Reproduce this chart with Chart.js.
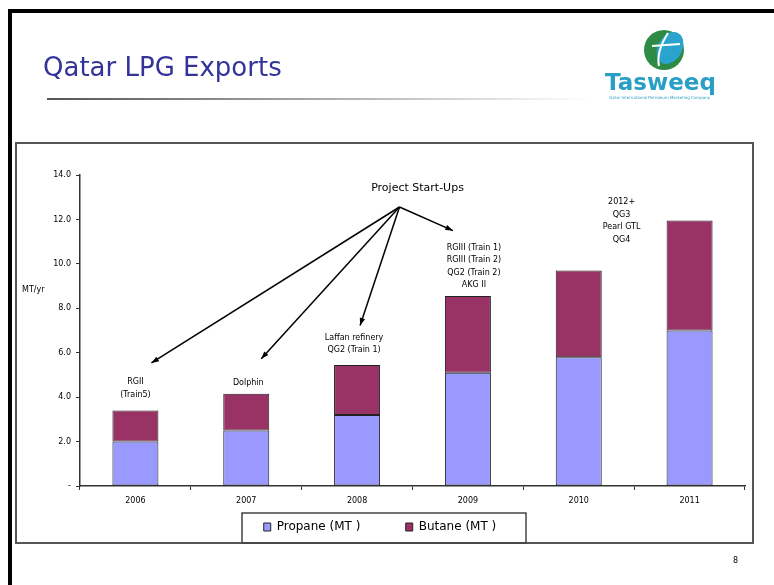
<!DOCTYPE html>
<html>
<head>
<meta charset="utf-8">
<script src="https://cdn.jsdelivr.net/npm/chart.js@4/dist/chart.umd.min.js"></script>
<style>
  body { margin: 0; background: #fff; }
  #wrap { width: 774px; height: 585px; }
</style>
</head>
<body>
<div id="wrap"><canvas id="lpgChart" width="774" height="585"></canvas></div>
<script>
// data (million tonnes / yr)
const years = ['2006', '2007', '2008', '2009', '2010', '2011'];
const propane = [2.0, 2.5, 3.2, 5.1, 5.8, 7.0];
const butane = [1.4, 1.65, 2.25, 3.45, 3.9, 4.95];
const yTicks = [0, 2, 4, 6, 8, 10, 12, 14];

// project start-up notes, by year index
const notes = [
  ['RGII', '(Train5)'],
  ['Dolphin'],
  ['Laffan refinery', 'QG2 (Train 1)'],
  ['RGIII (Train 1)', 'RGIII (Train 2)', 'QG2 (Train 2)', 'AKG II'],
  [],
  ['2012+', 'QG3', 'Pearl GTL', 'QG4']
];

// where the notes sit relative to the bars (pixels)
const noteDx = [0, 2, -3, 6, 0, -68];
const noteGap = [16, 11, 15, 11, 0, 0];
const lineH = 12.5;
const arrowTo = [0, 1, 2, 3]; // which notes the arrows point at

function totalOf(i) { return propane[i] + butane[i]; }

function arrow(ctx, x0, y0, x1, y1) {
  ctx.beginPath();
  ctx.moveTo(x0, y0);
  ctx.lineTo(x1, y1);
  ctx.stroke();
  const a = Math.atan2(y1 - y0, x1 - x0);
  ctx.beginPath();
  ctx.moveTo(x1, y1);
  ctx.lineTo(x1 - 8 * Math.cos(a - 0.35), y1 - 8 * Math.sin(a - 0.35));
  ctx.lineTo(x1 - 8 * Math.cos(a + 0.35), y1 - 8 * Math.sin(a + 0.35));
  ctx.closePath();
  ctx.fill();
}

const slidePlugin = {
  id: 'slide',
  beforeDraw(chart) {
    const ctx = chart.ctx;
    ctx.save();
    ctx.fillStyle = '#fff';
    ctx.fillRect(0, 0, 774, 585);

    // slide frame
    ctx.strokeStyle = '#000';
    ctx.lineWidth = 4;
    ctx.beginPath();
    ctx.moveTo(10, 590);
    ctx.lineTo(10, 11);
    ctx.lineTo(780, 11);
    ctx.stroke();

    // title
    ctx.fillStyle = '#333399';
    ctx.font = '26px "DejaVu Sans"';
    ctx.textBaseline = 'alphabetic';
    ctx.textAlign = 'left';
    ctx.fillText('Qatar LPG Exports', 43, 76, 246);

    const grad = ctx.createLinearGradient(47, 0, 590, 0);
    grad.addColorStop(0, '#555');
    grad.addColorStop(1, '#fff');
    ctx.fillStyle = grad;
    ctx.fillRect(47, 98, 543, 2);

    // logo
    ctx.fillStyle = '#2e8b45';
    ctx.beginPath();
    ctx.arc(664, 50, 20, 0, Math.PI * 2);
    ctx.fill();
    ctx.fillStyle = '#2aa3cf';
    ctx.beginPath();
    ctx.ellipse(670, 48, 12, 17, 0.5, 0, Math.PI * 2);
    ctx.fill();
    ctx.strokeStyle = '#fff';
    ctx.lineWidth = 2;
    ctx.beginPath();
    ctx.moveTo(668, 33);
    ctx.quadraticCurveTo(656, 52, 659, 66);
    ctx.moveTo(652, 46);
    ctx.lineTo(680, 44);
    ctx.stroke();
    ctx.fillStyle = '#2a9fc6';
    ctx.font = 'bold 23px "DejaVu Sans"';
    ctx.fillText('Tasweeq', 605, 90, 118);
    ctx.font = '4px "DejaVu Sans"';
    ctx.fillText('Qatar International Petroleum Marketing Company', 609, 99, 112);

    // chart frame
    ctx.strokeStyle = '#555';
    ctx.lineWidth = 2;
    ctx.strokeRect(16, 143, 737, 400);

    // legend frame
    ctx.lineWidth = 1.5;
    ctx.strokeStyle = '#444';
    ctx.strokeRect(242, 513, 284, 30);

    ctx.fillStyle = '#000';
    ctx.font = '8px "DejaVu Sans"';
    ctx.textBaseline = 'middle';
    ctx.fillText('MT/yr', 22, 290);
    ctx.fillText('8', 733, 561);
    ctx.restore();
  },
  afterDraw(chart) {
    const ctx = chart.ctx;
    const xs = chart.scales.x;
    const ys = chart.scales.y;
    ctx.save();
    ctx.fillStyle = '#000';
    ctx.strokeStyle = '#000';
    ctx.textAlign = 'center';
    ctx.textBaseline = 'middle';
    ctx.font = '8px "DejaVu Sans"';

    const firstLine = [];
    notes.forEach((lines, i) => {
      const cx = xs.getPixelForValue(i) + noteDx[i];
      let y0;
      if (i === 5) {
        y0 = ys.getPixelForValue(14) + 27;
      } else {
        y0 = ys.getPixelForValue(totalOf(i)) - noteGap[i] - (lines.length - 1) * lineH;
      }
      firstLine.push([cx, y0]);
      lines.forEach((t, k) => ctx.fillText(t, cx, y0 + k * lineH));
    });

    // project start-ups callout
    const px = xs.getPixelForValue(2.5) + 5;
    const py = ys.getPixelForValue(14) + 13;
    ctx.font = '11px "DejaVu Sans"';
    ctx.fillText('Project Start-Ups', px, py, 124);
    ctx.lineWidth = 1.5;
    const ox = px - 18, oy = py + 19;
    const ends = [[16, -19], [13, -24], [6, -12], [-21, -17]];
    arrowTo.forEach((n, k) => {
      const [cx, cy] = firstLine[n];
      arrow(ctx, ox, oy, cx + ends[k][0], cy + ends[k][1]);
    });
    ctx.restore();
  }
};

new Chart(document.getElementById('lpgChart'), {
  type: 'bar',
  data: {
    labels: years,
    datasets: [
      {
        label: 'Propane (MT )',
        data: propane,
        backgroundColor: '#9999ff',
        borderColor: '#222',
        borderWidth: 1,
        borderSkipped: false
      },
      {
        label: 'Butane (MT )',
        data: butane,
        backgroundColor: '#993366',
        borderColor: '#222',
        borderWidth: 1,
        borderSkipped: false
      }
    ]
  },
  options: {
    responsive: false,
    animation: false,
    layout: { padding: { left: 15, right: 29, top: 175, bottom: 42 } },
    datasets: { bar: { categoryPercentage: 1, barPercentage: 0.415 } },
    scales: {
      x: {
        stacked: true,
        afterFit: s => { s.height = 24; },
        grid: { drawOnChartArea: false, tickLength: 4, color: '#333' },
        border: { color: '#333', width: 1.5 },
        ticks: { color: '#000', font: { family: 'DejaVu Sans', size: 8 }, padding: 6, maxRotation: 0 }
      },
      y: {
        stacked: true,
        min: 0,
        max: 14,
        afterFit: s => { s.width = 65; },
        afterBuildTicks: s => { s.ticks = yTicks.map(v => ({ value: v })); },
        grid: { drawOnChartArea: false, tickLength: 4, color: '#333' },
        border: { color: '#333', width: 1.5 },
        ticks: {
          color: '#000',
          font: { family: 'DejaVu Sans', size: 8 },
          padding: 5,
          callback: v => v === 0 ? '-' : v.toFixed(1)
        }
      }
    },
    plugins: {
      legend: {
        position: 'bottom',
        labels: {
          color: '#000',
          font: { family: 'DejaVu Sans', size: 12 },
          boxWidth: 7,
          boxHeight: 8,
          padding: 11,
          generateLabels: chart => Chart.defaults.plugins.legend.labels.generateLabels(chart)
            .map((it, i) => i === 0 ? { ...it, text: it.text + '         ' } : it)
        }
      },
      tooltip: { enabled: false }
    }
  },
  plugins: [slidePlugin]
});
</script>
</body>
</html>
